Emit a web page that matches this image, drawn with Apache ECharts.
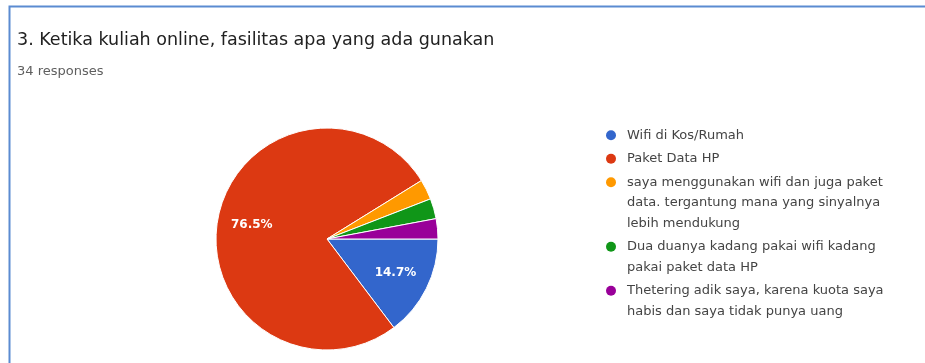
<!DOCTYPE html>
<html>
<head>
<meta charset="utf-8">
<script src="https://cdn.jsdelivr.net/npm/echarts@6/dist/echarts.min.js"></script>
<style>
  html, body { margin: 0; padding: 0; background: #fff; }
  #chart { width: 925px; height: 363px; }
</style>
</head>
<body>
<div id="chart"></div>
<script>
// data
const titleText = '3. Ketika kuliah online, fasilitas apa yang ada gunakan';
const responsesText = '34 responses';
const categories = [
    'Wifi di Kos/Rumah',
    'Paket Data HP',
    'saya menggunakan wifi dan juga paket data. tergantung mana yang sinyalnya lebih mendukung',
    'Dua duanya kadang pakai wifi kadang pakai paket data HP',
    'Thetering adik saya, karena kuota saya habis dan saya tidak punya uang'
];
// how the legend text wraps in the original
const legendLines = [
    ['Wifi di Kos/Rumah'],
    ['Paket Data HP'],
    ['saya menggunakan wifi dan juga paket', 'data. tergantung mana yang sinyalnya', 'lebih mendukung'],
    ['Dua duanya kadang pakai wifi kadang', 'pakai paket data HP'],
    ['Thetering adik saya, karena kuota saya', 'habis dan saya tidak punya uang']
];
const counts = [5, 26, 1, 1, 1];
const colors = ['#3366cc', '#dc3912', '#ff9900', '#109618', '#990099'];

const FONT = 'DejaVu Sans';
const LH = 20.5;

const chartInstance = echarts.init(document.getElementById('chart'));

const pieData = categories.map((name, i) => ({ name: name, value: counts[i] }));

// legend dots are drawn inside the rich text so they sit on the first line
const legendRich = { gap: { width: 11 }, ind: { width: 21 } };
colors.forEach((c, i) => {
    legendRich['d' + i] = { width: 10, height: 10, borderRadius: 5, backgroundColor: c };
});

const option = {
    color: colors,
    animation: false,
    title: {
        text: titleText,
        subtext: responsesText,
        left: 17,
        top: 31,
        padding: 0,
        itemGap: 16,
        textStyle: { fontFamily: FONT, fontSize: 17.5, fontWeight: 'normal', color: '#212121' },
        subtextStyle: { fontFamily: FONT, fontSize: 13, color: '#5f5f5f' }
    },
    legend: {
        orient: 'vertical',
        left: 601,
        top: 125,
        padding: 0,
        itemGap: 3,
        itemWidth: 0,
        itemHeight: 10,
        icon: 'none',
        textStyle: { fontFamily: FONT, fontSize: 13, color: '#444', lineHeight: LH, rich: legendRich },
        data: categories,
        formatter: function (name) {
            const i = categories.indexOf(name);
            return legendLines[i].map((line, k) =>
                (k === 0 ? '{d' + i + '|}{gap|}' : '{ind|}') + line
            ).join('\n');
        }
    },
    graphic: [{
        type: 'rect',
        shape: { x: 9.5, y: 6.5, width: 1000, height: 1000 },
        style: { fill: 'none', stroke: '#5b8bd1', lineWidth: 2 },
        silent: true
    }],
    series: [
        {
            name: 'fasilitas',
            type: 'pie',
            center: [327, 239],
            radius: 111,
            startAngle: 0,
            clockwise: true,
            itemStyle: { borderColor: '#fff', borderWidth: 1 },
            label: { show: false },
            labelLine: { show: false },
            emphasis: { scale: false },
            data: pieData
        },
        {
            // transparent copy only used to place the percent labels further out
            name: 'labels',
            type: 'pie',
            center: [327, 239],
            radius: [36, 111],
            startAngle: 0,
            clockwise: true,
            silent: true,
            percentPrecision: 1,
            itemStyle: { color: 'rgba(0,0,0,0)' },
            label: {
                show: true,
                position: 'inside',
                fontFamily: FONT,
                fontSize: 12,
                fontWeight: 'bold',
                color: '#fff',
                formatter: function (p) {
                    return p.percent >= 5 ? p.percent.toFixed(1) + '%' : '';
                }
            },
            labelLine: { show: false },
            emphasis: { disabled: true },
            data: pieData
        }
    ]
};

chartInstance.setOption(option);
</script>
</body>
</html>
